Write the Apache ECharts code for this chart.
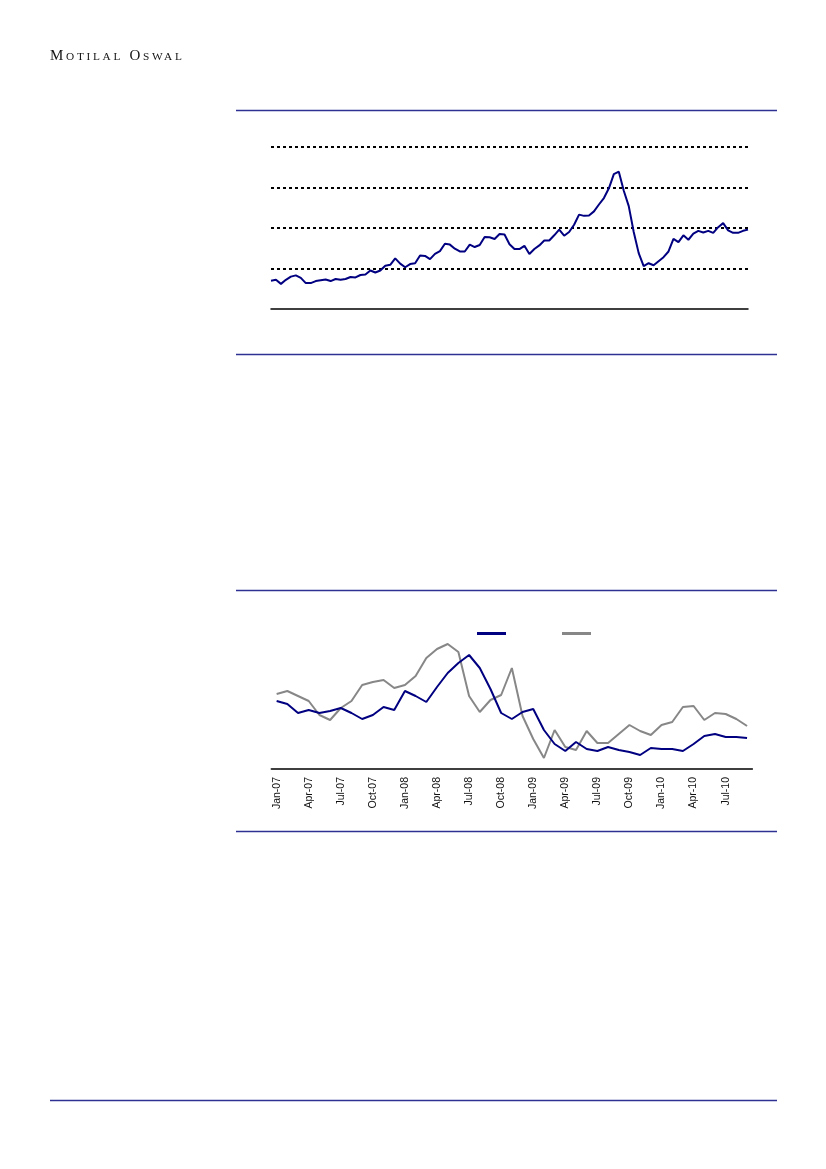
<!DOCTYPE html>
<html>
<head>
<meta charset="utf-8">
<script src="https://cdn.jsdelivr.net/npm/echarts@6/dist/echarts.min.js"></script>
<style>
html, body { margin: 0; padding: 0; background: #ffffff; }
#wrap { position: relative; width: 826px; height: 1169px; }
#chart { position: absolute; left: 0; top: 0; width: 826px; height: 1169px; }
#brand { position: absolute; left: 50px; top: 48px; font-family: 'Liberation Serif', 'DejaVu Serif', serif;
  font-size: 15px; line-height: 15px; letter-spacing: 2.7px; color: #141414; white-space: nowrap; }
#brand .s { font-size: 11.3px; }
</style>
</head>
<body>
<div id="wrap">
  <div id="chart"></div>
  <div id="brand">M<span class="s">OTILAL</span> O<span class="s">SWAL</span></div>
</div>
<script>
// ---------- Top chart data (grid units: 0 = axis, 4 = top dotted line) ----------
const topValues = [
  0.70, 0.72, 0.62, 0.72, 0.80, 0.83, 0.77, 0.64, 0.64, 0.69,
  0.71, 0.73, 0.69, 0.74, 0.72, 0.74, 0.79, 0.78, 0.84, 0.85,
  0.95, 0.90, 0.95, 1.07, 1.09, 1.25, 1.12, 1.03, 1.11, 1.13,
  1.32, 1.31, 1.23, 1.36, 1.43, 1.61, 1.59, 1.49, 1.42, 1.42,
  1.59, 1.53, 1.58, 1.78, 1.77, 1.73, 1.85, 1.84, 1.60, 1.48,
  1.48, 1.56, 1.36, 1.48, 1.57, 1.69, 1.69, 1.82, 1.96, 1.81,
  1.90, 2.08, 2.33, 2.30, 2.31, 2.41, 2.58, 2.74, 2.98, 3.33,
  3.39, 2.92, 2.54, 1.90, 1.38, 1.06, 1.13, 1.08, 1.18, 1.28,
  1.42, 1.73, 1.65, 1.82, 1.71, 1.86, 1.93, 1.89, 1.93, 1.88,
  2.02, 2.12, 1.94, 1.88, 1.88, 1.93, 1.96
];
const topPeriods = topValues.map((_, i) => String(i + 1));

// ---------- Bottom chart data ----------
const months = [
  'Jan-07','Feb-07','Mar-07','Apr-07','May-07','Jun-07','Jul-07','Aug-07','Sep-07','Oct-07','Nov-07','Dec-07',
  'Jan-08','Feb-08','Mar-08','Apr-08','May-08','Jun-08','Jul-08','Aug-08','Sep-08','Oct-08','Nov-08','Dec-08',
  'Jan-09','Feb-09','Mar-09','Apr-09','May-09','Jun-09','Jul-09','Aug-09','Sep-09','Oct-09','Nov-09','Dec-09',
  'Jan-10','Feb-10','Mar-10','Apr-10','May-10','Jun-10','Jul-10','Aug-10','Sep-10'
];
const tickLabels = ['Jan-07','Apr-07','Jul-07','Oct-07','Jan-08','Apr-08','Jul-08','Oct-08',
  'Jan-09','Apr-09','Jul-09','Oct-09','Jan-10','Apr-10','Jul-10'];
const navySeries = [
  6.8, 6.5, 5.6, 5.9, 5.6, 5.8, 6.1, 5.6, 5.0, 5.4,
  6.2, 5.9, 7.8, 7.3, 6.7, 8.2, 9.6, 10.6, 11.4, 10.1,
  8.0, 5.6, 5.0, 5.7, 6.0, 3.9, 2.5, 1.8, 2.7, 2.0,
  1.8, 2.2, 1.9, 1.7, 1.4, 2.1, 2.0, 2.0, 1.8, 2.5,
  3.3, 3.5, 3.2, 3.2, 3.1
];
const graySeries = [
  7.5, 7.8, 7.3, 6.8, 5.4, 4.9, 6.1, 6.8, 8.4, 8.7,
  8.9, 8.1, 8.4, 9.3, 11.1, 12.0, 12.5, 11.7, 7.3, 5.7,
  6.9, 7.4, 10.1, 5.3, 3.0, 1.1, 3.9, 2.2, 1.9, 3.8,
  2.6, 2.6, 3.5, 4.4, 3.8, 3.4, 4.4, 4.7, 6.2, 6.3,
  4.9, 5.6, 5.5, 5.0, 4.3
];

const NAVY = '#000080';
const GRAY = '#878787';
const RULE = '#2e3192';

const chart = echarts.init(document.getElementById('chart'), null, { renderer: 'canvas' });

function rule(x1, x2, y) {
  return { type: 'line', silent: true, shape: { x1: x1, y1: y, x2: x2, y2: y },
           style: { stroke: RULE, lineWidth: 1.3 } };
}

const option = {
  animation: false,
  backgroundColor: '#ffffff',
  graphic: [
    rule(236, 777, 110.5),
    rule(236, 777, 354.5),
    rule(236, 777, 590.5),
    rule(236, 777, 831.5),
    rule(50, 777, 1100.5)
  ],
  legend: [
    { left: 477, top: 632, itemWidth: 29, itemHeight: 3, icon: 'rect', selectedMode: false,
      data: ['Series 1'], formatter: function () { return ''; }, padding: 0 },
    { left: 562, top: 632, itemWidth: 29, itemHeight: 3, icon: 'rect', selectedMode: false,
      data: ['Series 2'], formatter: function () { return ''; }, padding: 0 }
  ],
  grid: [
    { left: 271, right: 78, top: 147, bottom: 1169 - 309 },
    { left: 271.3, right: 826 - 752.4, top: 629, bottom: 1169 - 769 }
  ],
  xAxis: [
    { gridIndex: 0, type: 'category', data: topPeriods, boundaryGap: false,
      axisLine: { show: true, lineStyle: { color: '#000', width: 1.5 } },
      axisTick: { show: false }, axisLabel: { show: false }, splitLine: { show: false } },
    { gridIndex: 1, type: 'value', min: -0.5, max: 44.5,
      axisLine: { show: true, onZero: false, lineStyle: { color: '#000', width: 1.5 } },
      axisTick: { show: false },
      splitLine: { show: false },
      axisLabel: {
        show: true, rotate: 90, margin: 8,
        customValues: tickLabels.map(l => months.indexOf(l)),
        formatter: function (v) { return months[Math.round(v)] || ''; },
        fontFamily: 'Liberation Sans, Arial, sans-serif', fontSize: 10.5, color: '#111'
      } }
  ],
  yAxis: [
    { gridIndex: 0, type: 'value', min: 0, max: 4, interval: 1,
      axisLine: { show: false }, axisTick: { show: false }, axisLabel: { show: false },
      splitLine: { show: true, showMinLine: false,
        lineStyle: { color: '#000', width: 2, type: [3, 3] } } },
    { gridIndex: 1, type: 'value', min: 0, max: 14,
      axisLine: { show: false }, axisTick: { show: false }, axisLabel: { show: false },
      splitLine: { show: false } }
  ],
  series: [
    { type: 'line', xAxisIndex: 0, yAxisIndex: 0, data: topValues, showSymbol: false,
      lineStyle: { color: NAVY, width: 2 }, itemStyle: { color: NAVY }, z: 3 },
    { name: 'Series 2', type: 'line', xAxisIndex: 1, yAxisIndex: 1,
      data: graySeries.map((v, i) => [i, v]), showSymbol: false,
      lineStyle: { color: GRAY, width: 2 }, itemStyle: { color: GRAY }, color: GRAY, z: 2 },
    { name: 'Series 1', type: 'line', xAxisIndex: 1, yAxisIndex: 1,
      data: navySeries.map((v, i) => [i, v]), showSymbol: false,
      lineStyle: { color: NAVY, width: 2 }, itemStyle: { color: NAVY }, color: NAVY, z: 3 }
  ]
};
chart.setOption(option);
</script>
</body>
</html>
